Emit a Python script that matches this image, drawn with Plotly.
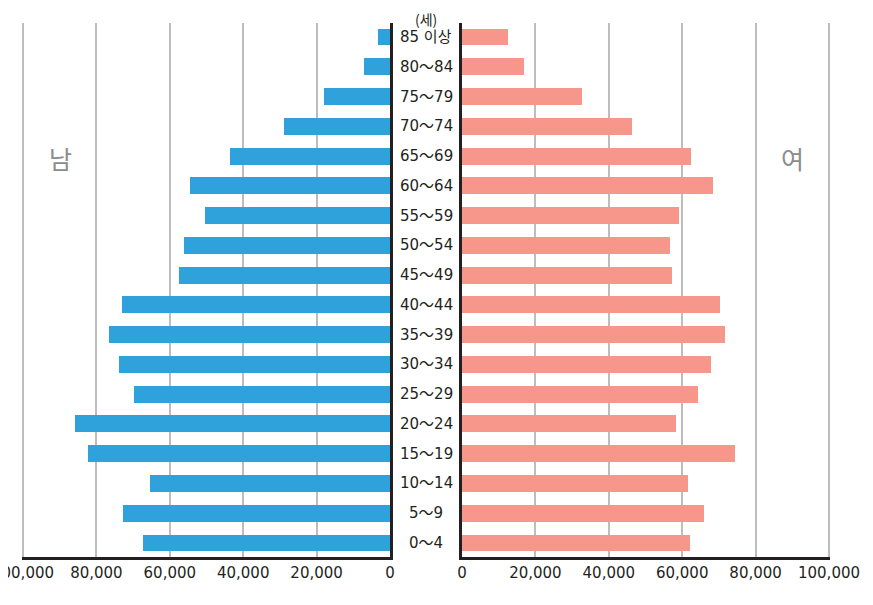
import plotly.graph_objects as go

ages = ["0～4", "5～9", "10～14", "15～19", "20～24", "25～29", "30～34", "35～39",
        "40～44", "45～49", "50～54", "55～59", "60～64", "65～69", "70～74",
        "75～79", "80～84", "85 이상"]
male = [67300, 72800, 65400, 82300, 85800, 69800, 73800, 76600, 73000,
        57500, 56100, 50400, 54500, 43600, 28900, 18000, 7100, 3300]
female = [62100, 65900, 61600, 74400, 58300, 64300, 67800, 71700, 70300,
          57200, 56700, 59100, 68400, 62400, 46300, 32700, 16900, 12500]
tick_vals = [0, 20000, 40000, 60000, 80000, 100000]
tick_text = ["0", "20,000", "40,000", "60,000", "80,000", "100,000"]

W, H = 873, 605
OFF = 8  # page body offset
NUM_FONT = "DejaVu Sans, Noto Sans CJK KR, sans-serif"
KR_FONT = "Noto Sans CJK KR, sans-serif"
pos = list(range(len(ages)))

XMAX = 100300
px_per = 367 / 100000
ext = (XMAX - 100000) * px_per

L0, L1 = 23 - OFF - ext, 390 - OFF
R0, R1 = 462 - OFF, 829 - OFF + ext
TOP, BOT = 23 - OFF, 557 - OFF

fig = go.Figure()
fig.add_trace(go.Bar(y=pos, x=male, orientation="h", marker_color="#2fa1db",
                     width=0.57, xaxis="x", yaxis="y", showlegend=False))
fig.add_trace(go.Bar(y=pos, x=female, orientation="h", marker_color="#f7968a",
                     width=0.57, xaxis="x2", yaxis="y2", showlegend=False))

yr = [-0.47, len(ages) - 1 + 0.47]
axis_common = dict(tickvals=tick_vals, ticktext=tick_text, showgrid=True,
                   gridcolor="#bdbdbd", gridwidth=1.5, zeroline=False,
                   showline=True, linecolor="#231f20", linewidth=3,
                   ticks="", automargin=False, ticklabeloverflow="allow",
                   tickfont=dict(family=NUM_FONT, size=15, color="#231f20"),
                   fixedrange=True)
yaxis_common = dict(range=yr, showline=True, linecolor="#231f20", linewidth=3,
                    showticklabels=False, showgrid=False, zeroline=False,
                    automargin=False, fixedrange=True)
fig.update_layout(
    template="none",
    width=W, height=H,
    margin=dict(l=0, r=0, t=TOP, b=H - BOT, autoexpand=False),
    paper_bgcolor="white", plot_bgcolor="white",
    bargap=0,
    xaxis=dict(domain=[L0 / W, L1 / W], range=[XMAX, 0], anchor="y", **axis_common),
    xaxis2=dict(domain=[R0 / W, R1 / W], range=[0, XMAX], anchor="y2", **axis_common),
    yaxis=dict(side="right", anchor="x", **yaxis_common),
    yaxis2=dict(side="left", anchor="x2", **yaxis_common),
)

mid = (426 - OFF) / W
for i, a in enumerate(ages):
    fig.add_annotation(x=mid, xref="paper", y=i, yref="y", text=a,
                       showarrow=False, xanchor="center", yanchor="middle",
                       font=dict(family=NUM_FONT, size=15, color="#231f20"))

plot_h = BOT - TOP
fig.add_annotation(x=mid, xref="paper", y=1 + (TOP - (19.5 - OFF)) / plot_h, yref="paper",
                   text="(세)", showarrow=False, xanchor="center", yanchor="middle",
                   font=dict(family=KR_FONT, size=14, color="#231f20"))
fig.add_annotation(x=(60 - OFF) / W, xref="paper", y=12.93, yref="y", text="남",
                   showarrow=False, xanchor="center", yanchor="middle",
                   font=dict(family=KR_FONT, size=25, color="#8c8c8c"))
fig.add_annotation(x=(792 - OFF) / W, xref="paper", y=12.93, yref="y", text="여",
                   showarrow=False, xanchor="center", yanchor="middle",
                   font=dict(family=KR_FONT, size=25, color="#8c8c8c"))

fig.write_html("out.html")
